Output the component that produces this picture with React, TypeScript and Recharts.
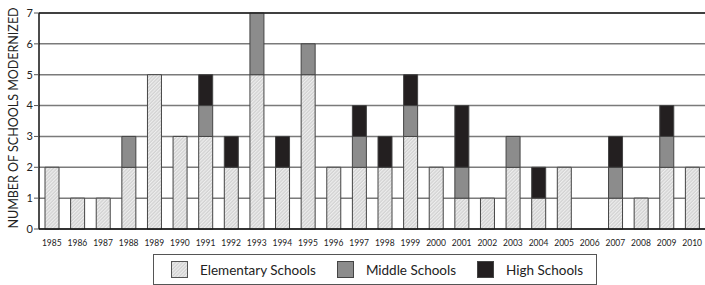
import React from 'react';
import {
  BarChart, Bar, XAxis, YAxis, CartesianGrid, Legend, ReferenceLine
} from 'recharts';

const years = [
  '1985', '1986', '1987', '1988', '1989', '1990', '1991', '1992', '1993',
  '1994', '1995', '1996', '1997', '1998', '1999', '2000', '2001', '2002',
  '2003', '2004', '2005', '2006', '2007', '2008', '2009', '2010',
];
const elementary = [2, 1, 1, 2, 5, 3, 3, 2, 5, 2, 5, 2, 2, 2, 3, 2, 1, 1, 2, 1, 2, 0, 1, 1, 2, 2];
const middle = [0, 0, 0, 1, 0, 0, 1, 0, 2, 0, 1, 0, 1, 0, 1, 0, 1, 0, 1, 0, 0, 0, 1, 0, 1, 0];
const high = [0, 0, 0, 0, 0, 0, 1, 1, 0, 1, 0, 0, 1, 1, 1, 0, 2, 0, 0, 1, 0, 0, 1, 0, 1, 0];
const yTicks = [0, 1, 2, 3, 4, 5, 6, 7];

const FONT = 'Lato, "Open Sans", sans-serif';

const series = [
  { key: 'elementary', name: 'Elementary Schools', fill: 'url(#hatch)' },
  { key: 'middle', name: 'Middle Schools', fill: '#8c8c8c' },
  { key: 'high', name: 'High Schools', fill: '#231f20' },
];

const chartData = years.map((year, i) => ({
  year,
  elementary: elementary[i],
  middle: middle[i],
  high: high[i],
}));

function HatchPattern({ id }: { id: string }) {
  return (
    <pattern id={id} patternUnits="userSpaceOnUse" width="2.5" height="2.5" patternTransform="rotate(45)">
      <rect width="2.5" height="2.5" fill="#d2d2d2" />
      <line x1="0.6" y1="0" x2="0.6" y2="2.5" stroke="#f2f2f2" strokeWidth="1" />
    </pattern>
  );
}

function HatchSwatch() {
  return (
    <svg width={17} height={17} style={{ display: 'block' }}>
      <defs>
        <HatchPattern id="hatchLegend" />
      </defs>
      <rect x={0.5} y={0.5} width={16} height={16} fill="url(#hatchLegend)" stroke="#555" />
    </svg>
  );
}

function renderLegend() {
  return (
    <div style={{ height: 34, paddingTop: 3, boxSizing: 'border-box' }}>
      <div
        style={{
          marginLeft: 153,
          width: 444,
          height: 31,
          boxSizing: 'border-box',
          border: '1px solid #555',
          display: 'flex',
          alignItems: 'center',
          fontFamily: FONT,
          fontSize: 13.5,
          color: '#222',
        }}
      >
        {series.map((s, i) => (
          <div key={s.key} style={{ display: 'flex', alignItems: 'center', marginLeft: i === 0 ? 17 : 21 }}>
            {s.key === 'elementary' ? (
              <HatchSwatch />
            ) : (
              <div style={{ width: 17, height: 17, boxSizing: 'border-box', background: s.fill, border: '1px solid #444' }} />
            )}
            <span style={{ marginLeft: 12 }}>{s.name}</span>
          </div>
        ))}
      </div>
    </div>
  );
}

function YLabel() {
  return (
    <text
      x={13}
      y={118}
      transform="rotate(-90, 13, 118)"
      textAnchor="middle"
      dominantBaseline="central"
      style={{ fontSize: 12.5, fontFamily: FONT, fill: '#222' }}
    >
      NUMBER OF SCHOOLS MODERNIZED
    </text>
  );
}

export default function App() {
  return (
    <div style={{ position: 'absolute', left: 0, top: 0, width: 705, height: 285, background: '#fff' }}>
      <BarChart
        width={705}
        height={285}
        data={chartData}
        margin={{ top: 13, right: 0, bottom: 0, left: 0 }}
        barSize={14}
      >
        <defs>
          <HatchPattern id="hatch" />
        </defs>
        <CartesianGrid vertical={false} stroke="#7a7a7a" strokeWidth={1.5} />
        <XAxis
          dataKey="year"
          height={22}
          interval={0}
          tickLine={false}
          axisLine={{ stroke: '#111', strokeWidth: 1.5 }}
          tick={{ fontSize: 8.5, fontFamily: FONT, fill: '#222' }}
          tickMargin={5}
        />
        <YAxis
          width={39}
          domain={[0, 7]}
          ticks={yTicks}
          interval={0}
          tickSize={5}
          tickLine={{ stroke: '#555' }}
          axisLine={{ stroke: '#111', strokeWidth: 1.5 }}
          tick={{ fontSize: 11, fontFamily: FONT, fill: '#222' }}
          tickMargin={1}
          label={<YLabel />}
        />
        <ReferenceLine y={7} stroke="#222" strokeWidth={1.5} />
        {series.map((s) => (
          <Bar
            key={s.key}
            dataKey={s.key}
            name={s.name}
            stackId="a"
            fill={s.fill}
            stroke="#444"
            strokeWidth={1}
            isAnimationActive={false}
          />
        ))}
        <Legend verticalAlign="bottom" content={renderLegend} wrapperStyle={{ left: 0, width: 705 }} />
      </BarChart>
    </div>
  );
}
